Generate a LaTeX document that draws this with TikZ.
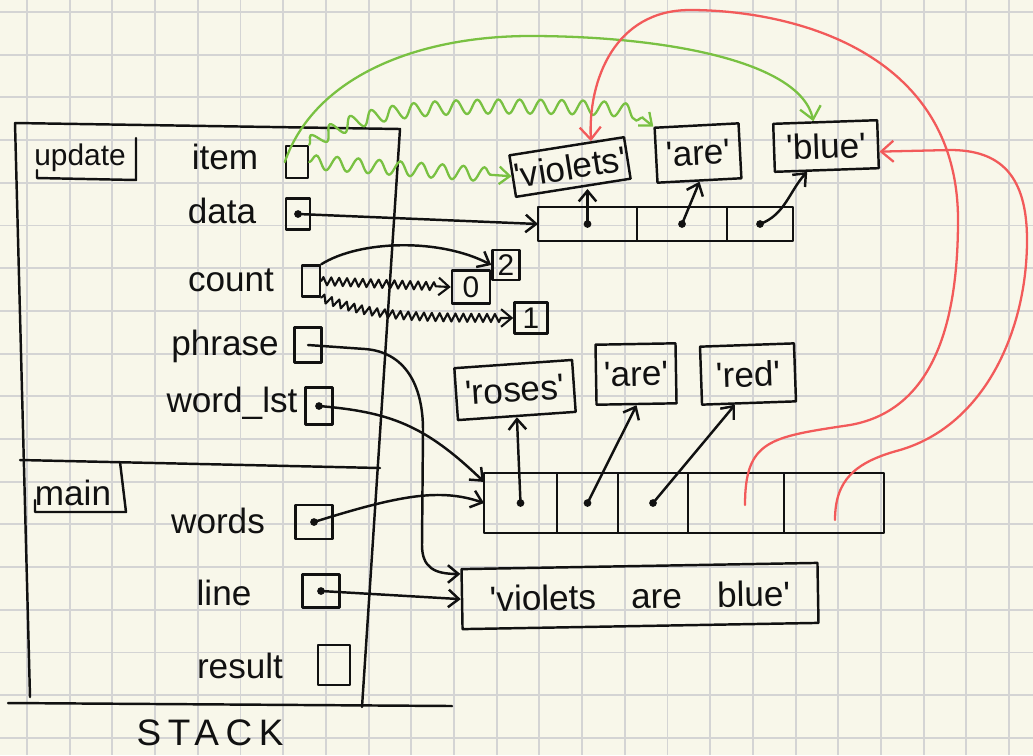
\documentclass[tikz,border=0pt]{standalone}
\usepackage{fontspec}
\setmainfont{Liberation Sans}
\usetikzlibrary{arrows.meta, calc, decorations.pathmorphing}
\definecolor{mmPaper}{HTML}{F8F7EA}
\definecolor{mmGrid}{HTML}{D4D4D4}
\definecolor{mmInk}{HTML}{111111}
\definecolor{mmGreen}{HTML}{79C142}
\definecolor{mmRed}{HTML}{F25A5A}
\newlength{\px}
\setlength{\px}{0.02cm}
\newcommand{\strq}[1]{\textquotesingle#1\textquotesingle}
\tikzset{
  mmgrid/.style={draw=mmGrid, line width=1.1pt},
  mmink/.style={draw=mmInk, line width=1.4pt, line cap=round, line join=round},
  mmname/.style={font=\fontsize{20}{24}\selectfont, text=mmInk, inner sep=0pt},
  mmslot/.style={mmink, inner sep=0pt},
  mmobj/.style={mmink, inner sep=0pt, font=\fontsize{20}{24}\selectfont, text=mmInk},
  mmcell/.style={mmink, inner sep=0pt, outer sep=0pt, anchor=west},
  mmptr/.style={mmink, -{Straight Barb[length=6pt, width=10pt]}},
  mmgone/.style={mmink, line width=1.2pt, decorate,
    decoration={zigzag, amplitude=2.3pt, segment length=4.5pt, post length=7pt},
    -{Straight Barb[length=6pt, width=10pt]}},
  mmold/.style={draw=mmGreen, line width=1.3pt, line cap=round, decorate,
    decoration={snake, amplitude=4pt, segment length=12pt, post length=8pt},
    -{Straight Barb[length=6pt, width=10pt]}},
  mmnew/.style={draw=#1, line width=1.3pt, line cap=round,
    -{Straight Barb[length=7pt, width=12pt]}},
}
\newcommand{\mmvar}[6]{%
  \node[mmname] (#1n) at (#3) {#2};%
  \node[mmslot, minimum width=#5\px, minimum height=#6\px] (#1) at (#4) {};%
}

\begin{document}
\begin{tikzpicture}[x=0.02cm, y=-0.02cm]

% Paper -------------------------------------------------------------------
\fill[mmPaper] (0,0) rectangle (1033,755);
\useasboundingbox (0,0) rectangle (1033,755);
\foreach \i in {0,...,23}{\draw[mmgrid] (27+42.7*\i,0) -- (27+42.7*\i,755);}
\foreach \j in {0,...,17}{\draw[mmgrid] (0,12+42.7*\j) -- (1033,12+42.7*\j);}

% Stack frames ------------------------------------------------------------
\draw[mmink] (15,123) -- (400,129) -- (362,707);
\draw[mmink] (15,123) -- (30,697);
\draw[mmink] (20,460) -- (380,468);
\draw[mmink] (8,703) -- (452,706);
\draw[mmink] (37,170) -- (37,178) -- (136,180) -- (136,138);
\draw[mmink] (35,500) -- (35,512) -- (126,512) -- (120,462);
\node[mmname, font=\fontsize{17}{20}\selectfont] (upd) at (80,158) {update};
\node[mmname] (mn) at (73,493) {main};
\node[mmname, font=\fontsize{21}{24}\selectfont\addfontfeature{LetterSpace=18}] (stk) at (210,733) {STACK};

\mmvar{itm}{item}{225,157}{297,162}{22}{32}
\mmvar{dat}{data}{222,211}{298,214}{24}{31}
\mmvar{cnt}{count}{231,280}{311,281}{18}{31}
\mmvar{phr}{phrase}{225,346}{308,345}{27}{35}
\mmvar{wls}{word\_lst}{232,403}{319,406}{27}{37}
\mmvar{wds}{words}{218,521}{314,522}{37}{34}
\mmvar{lin}{line}{224,593}{321,591}{37}{33}
\mmvar{res}{result}{240,666}{334,665}{32}{40}

% Heap --------------------------------------------------------------------
\node[mmobj, minimum width=116\px, minimum height=42\px, rotate=9] (vio) at (570,167) {\strq{violets}};
\node[mmobj, minimum width=84\px, minimum height=55\px, rotate=3] (are1) at (698,153) {\strq{are}};
\node[mmobj, minimum width=104\px, minimum height=48\px, rotate=2] (blu) at (826,146) {\strq{blue}};

\node[mmcell, minimum width=99\px, minimum height=34\px] (l11) at (538,224) {};
\node[mmcell, minimum width=90\px, minimum height=34\px] (l12) at (l11.east) {};
\node[mmcell, minimum width=66\px, minimum height=34\px] (l13) at (l12.east) {};

\node[mmobj, font=\fontsize{17}{18}\selectfont, minimum width=27\px, minimum height=30\px] (two) at (506,265) {2};
\node[mmobj, font=\fontsize{17}{18}\selectfont, minimum width=38\px, minimum height=33\px] (zero) at (471,287) {0};
\node[mmobj, font=\fontsize{17}{18}\selectfont, minimum width=33\px, minimum height=31\px] (one) at (531,318) {1};

\node[mmobj, minimum width=118\px, minimum height=52\px, rotate=4] (ros) at (515,390) {\strq{roses}};
\node[mmobj, minimum width=80\px, minimum height=60\px, rotate=1] (are2) at (636,374) {\strq{are}};
\node[mmobj, minimum width=94\px, minimum height=58\px, rotate=2] (rd) at (748,374) {\strq{red}};

\node[mmcell, minimum width=73\px, minimum height=60\px] (l21) at (484,503) {};
\node[mmcell, minimum width=61\px, minimum height=60\px] (l22) at (l21.east) {};
\node[mmcell, minimum width=70\px, minimum height=60\px] (l23) at (l22.east) {};
\node[mmcell, minimum width=96\px, minimum height=60\px] (l24) at (l23.east) {};
\node[mmcell, minimum width=100\px, minimum height=60\px] (l25) at (l24.east) {};

\node[mmobj, minimum width=356\px, minimum height=60\px, rotate=1] (vab) at (640,596) {\strq{violets\quad are\quad blue}};

% Pointers ----------------------------------------------------------------
\foreach \d in {dat, wls, wds, lin, l11, l12, l13, l21, l22, l23}{%
  \fill[mmInk] (\d.center) circle[radius=2.2pt];
}
\draw[mmptr] (dat.center) -- (l11.west);
\draw[mmptr] (phr.center) -- (365,349) .. controls (405,352) and (423,385) .. (423,430)
  -- (422,545) .. controls (422,568) and (435,574) .. (vab.172);
\draw[mmptr] (wls.center) .. controls (390,412) and (425,425) .. (l21.150);
\draw[mmptr] (wds.center) .. controls (400,495) and (440,488) .. (l21.west);
\draw[mmptr] (lin.center) -- (vab.west);

\draw[mmptr] (l11.center) -- (l11.center |- vio.south);
\draw[mmptr] (l12.center) -- (are1.south);
\draw[mmptr] (l13.center) .. controls (785,215) and (790,190) .. (blu.232);
\draw[mmptr] (l21.center) -- (ros.south);
\draw[mmptr] (l22.center) -- (are2.south);
\draw[mmptr] (l23.center) -- (rd.245);

% count: two old values, one current
\draw[mmptr] (cnt.north east) .. controls (360,240) and (440,238) .. (two.west);
\draw[mmgone] (cnt.east) -- (zero.west);
\draw[mmgone] (cnt.south east) .. controls (370,315) and (400,318) .. (one.west);

% item: two old targets, one current
\draw[mmold] (itm.east) -- (vio.west);
\draw[mmold] (itm.north east) .. controls (360,110) and (430,108) .. (560,110)
  .. controls (620,111) and (650,115) .. (are1.north west);
\draw[mmnew=mmGreen] (itm.west) .. controls (315,75) and (420,36) .. (530,36)
  .. controls (660,36) and (800,60) .. (blu.115);

% words after the append
\draw[mmnew=mmRed] ($(l24.center)+(9,2)$) .. controls (745,440) and (770,437) .. (850,425)
  .. controls (935,410) and (958,320) .. (958,220)
  .. controls (958,50) and (790,10) .. (690,10)
  .. controls (615,10) and (588,80) .. (vio.42);
\draw[mmnew=mmRed] ($(l25.center)+(1,17)$) .. controls (835,480) and (855,462) .. (900,450)
  .. controls (985,425) and (1027,330) .. (1027,240)
  .. controls (1027,175) and (1000,150) .. (950,150) -- (blu.-8);

\end{tikzpicture}
\end{document}
